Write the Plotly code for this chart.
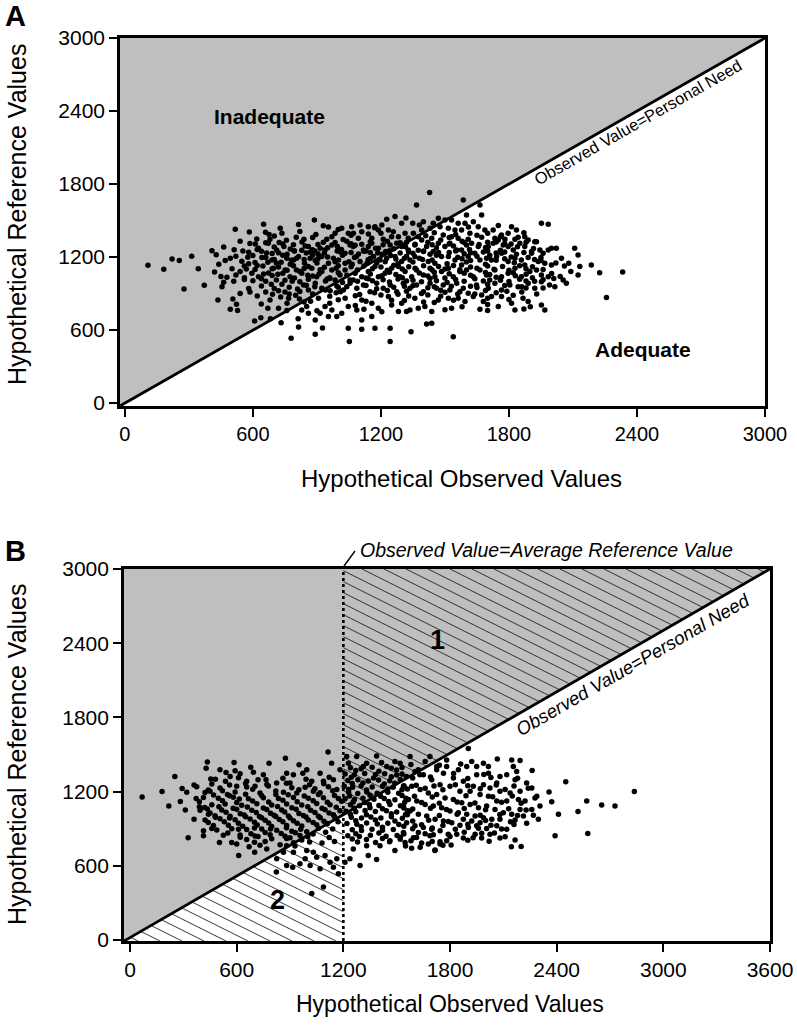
import math
import plotly.graph_objects as go

FONT = "Liberation Sans, Arial, Helvetica, sans-serif"

# ---------------- data ----------------
a_ticks = [0, 600, 1200, 1800, 2400, 3000]
b_xticks = [0, 600, 1200, 1800, 2400, 3000, 3600]
b_yticks = [0, 600, 1200, 1800, 2400, 3000]
a_x_range = [-23, 3000]
a_y_range = [-25, 3000]
b_x_range = [-34, 3600]
b_y_range = [-8, 3000]
average_reference_value = 1200

# Panel A: (observed, reference)
a_points = [
    (1428,1729),(1367,1627),(1586,1669),(1664,1627),
    (1266,1532),(1227,1510),(1317,1521),(1469,1518),(1531,1504),(1601,1545),(1672,1545),(888,1504),
    (650,1469),(814,1466),(1102,1463),(1141,1449),(1204,1463),(1952,1477),(1984,1469),(1812,1449),
    (1594,1477),(1562,1477),(1633,1490),(1500,1504),(1399,1490),(1349,1477),(954,1447),(1016,1436),
    (1063,1449),(1172,1449),(1297,1477),(1445,1477),
    (517,1427),(583,1406),(659,1403),(676,1384),(728,1436),(736,1395),(895,1384),(985,1395),
    (1047,1395),(1071,1395),(1110,1408),(1141,1389),(1188,1422),(1235,1422),(1258,1408),(1313,1395),
    (1352,1395),(1391,1422),(1430,1436),(1477,1449),(1516,1436),(1547,1422),(1578,1422),(1617,1395),
    (1656,1449),(1687,1422),(1726,1422),(1765,1381),(1796,1395),(1835,1422),(1843,1362),(1890,1340),
    (1921,1326),(618,1348),(757,1337),(803,1362),(839,1345),(946,1345),(970,1367),(1023,1343),
    (1094,1354),(1157,1354),(1211,1345),(1282,1367),(1328,1354),(1375,1367),(1438,1354),(1492,1381),
    (1531,1367),(1562,1354),(1609,1345),(1672,1362),(1734,1354),(1781,1345),(1828,1345),(1874,1367),
    (463,1282),(512,1260),(553,1249),(408,1252),(586,1310),(611,1307),(626,1271),(672,1312),
    (711,1258),(723,1318),(745,1285),(793,1252),(829,1255),(860,1285),(879,1260),(915,1271),
    (938,1258),(970,1299),(996,1285),(1032,1230),(1055,1299),(1079,1296),(1118,1258),(1141,1285),
    (1157,1312),(1188,1271),(1222,1244),(1243,1299),(1274,1312),(1297,1285),(1328,1258),(1359,1299),
    (1391,1340),(1414,1285),(1445,1244),(1469,1312),(1500,1285),(1523,1312),(1555,1258),(1578,1258),
    (1601,1299),(1625,1312),(1656,1285),(1703,1285),(1726,1312),(1750,1340),(1773,1299),(1796,1285),
    (1820,1258),(1851,1312),(1874,1285),(1906,1244),(1929,1326),(1945,1258),(1984,1258),(1999,1271),
    (2022,1271),(2108,1271),(428,1219),(313,1206),(221,1184),(255,1170),
    (108,1132),(470,1170),(494,1189),(548,1164),(576,1197),(642,1195),(647,1126),(664,1233),
    (689,1175),(732,1156),(759,1189),(790,1175),(814,1203),(842,1148),(868,1189),(892,1170),
    (923,1203),(954,1148),(977,1189),(1001,1175),(1032,1148),(1076,1195),(1102,1162),(1135,1148),
    (1165,1203),(1196,1175),(1227,1189),(1266,1203),(1297,1162),(1336,1175),(1359,1203),(1399,1244),
    (1422,1162),(1453,1148),(1484,1203),(1516,1203),(1547,1175),(1578,1134),(1609,1203),(1640,1230),
    (1664,1175),(1695,1189),(1718,1175),(1742,1203),(1765,1230),(1796,1162),(1828,1189),(1858,1175),
    (1906,1230),(1937,1162),(1968,1148),(2046,1189),(2124,1217),(2132,1121),(2186,1134),(1999,1134),
    (1874,1134),
    (182,1099),(344,1104),(420,1077),(478,1033),(502,1104),(520,1052),(569,1101),(595,1066),
    (626,1038),(673,1069),(696,1107),(717,1058),(751,1093),(774,1038),(804,1093),(829,1066),
    (857,1049),(876,1107),(899,1038),(923,1080),(948,1019),(970,1093),(985,1011),(1008,1052),
    (1032,1093),(1055,1011),(1079,1066),(1110,1038),(1141,1080),(1172,1121),(1188,1038),(1219,1066),
    (1250,1107),(1282,1121),(1289,1038),(1313,1080),(1344,1038),(1367,1093),(1399,1052),(1430,1107),
    (1453,1038),(1484,1080),(1516,1107),(1539,1038),(1570,1080),(1601,1093),(1633,1038),(1664,1093),
    (1695,1052),(1734,1093),(1765,1038),(1796,1066),(1828,1107),(1858,1038),(1898,1080),(1929,1093),
    (1952,1052),(1984,1038),(2124,1052),(2225,1071),(2054,1011),
    (277,937),(372,967),(455,956),(463,992),(580,940),(586,912),(686,975),(692,893),
    (736,975),(750,912),(784,1000),(809,937),(837,970),(860,929),(892,984),(923,943),
    (962,923),(993,962),(1024,929),(1055,984),(1087,943),(1118,970),(1149,915),(1180,984),
    (1211,943),(1243,970),(1274,915),(1305,984),(1336,943),(1367,970),(1399,915),(1430,984),
    (1461,943),(1492,970),(1523,929),(1555,984),(1586,943),(1609,901),(1648,970),(1672,888),
    (1703,943),(1734,984),(1765,929),(1804,970),(1843,956),(1890,984),(1921,943),(2015,956),
    (2069,984),(1952,997),
    (436,847),(494,770),(528,759),(523,811),(506,855),(639,814),(670,778),(720,778),
    (759,759),(767,860),(818,855),(870,836),(829,764),(852,792),(860,737),(915,737),
    (938,792),(970,764),(993,710),(1016,737),(1047,792),(1087,764),(1110,847),(1157,819),
    (1188,778),(1204,750),(1250,806),(1282,751),(1297,819),(1336,764),(1375,778),(1406,792),
    (1438,751),(1469,847),(1516,860),(1531,778),(1594,833),(1633,874),(1664,770),(1718,874),
    (1750,792),(1765,874),(1812,819),(1828,764),(1866,860),(1890,833),(1952,806),(1968,764),
    (1562,860),(1359,860),(1235,874),(1032,860),(907,860),
    (608,674),(637,701),(682,693),(732,660),(779,532),(812,693),(814,625),(892,564),
    (926,616),(892,682),(954,710),(1047,614),(1052,504),(1110,682),(1157,710),(1110,606),
    (1172,614),(1243,614),(1243,504),(1341,586),(1414,649),(1438,655),(1539,545),
    (2333,1077),(2257,866),
    (690,1228),(760,1222),(850,1232),(905,1226),(1010,1240),(1095,1225),(1150,1236),(1205,1222),
    (1290,1232),(1350,1230),(1430,1222),(1520,1236),(1590,1226),(1680,1240),(1740,1232),(1835,1222),
    (1960,1230),
    (560,1125),(620,1130),(720,1118),(790,1128),(860,1122),(935,1115),(1000,1128),(1060,1120),
    (1120,1125),(1200,1118),(1260,1132),(1330,1120),(1400,1128),(1470,1122),(1540,1130),(1620,1118),
    (1700,1126),(1770,1121),(1850,1128),(1910,1120),(2060,1125),
    (510,1000),(600,1005),(660,1000),(710,1010),(820,996),(940,1002),(1020,990),(1090,1000),
    (1160,1005),(1240,995),(1320,1002),(1390,996),(1460,1005),(1510,990),(1590,1000),(1680,1002),
    (1710,1010),(1800,998),(1880,1003),(1920,1000),(2010,1022),
    (620,880),(730,870),(800,885),(880,895),(960,878),(1080,882),(1200,888),(1330,880),
    (1420,888),(1480,878),(1560,895),(1700,860),(1820,885),(1930,895),
    (540,1330),(680,1345),(790,1300),(930,1320),(1040,1330),(1110,1305),(1230,1330),(1320,1320),
    (1440,1300),(1480,1340),(1580,1330),(1700,1320),(1780,1310),(1880,1320),
    (540,1080),(650,1060),(740,1066),(820,1080),(910,1060),(1000,1070),(1150,1060),(1240,1075),
    (1270,1055),(1380,1068),(1450,1075),(1520,1062),(1590,1066),(1690,1072),(1710,1055),(1820,1070),
    (1880,1058),(2000,1065),(2090,1080),
    (440,1140),(610,1155),(710,1150),(840,1180),(1050,1160),(1220,1160),(1310,1190),(1395,1180),
    (1620,1170),(1780,1185),(1890,1195),(2020,1150),
    (700,940),(890,955),(1000,950),(1180,938),(1310,960),(1450,955),(1620,960),(1700,975),
    (1880,945),(1990,970),
    (760,820),(960,820),(1080,800),(1250,845),(1400,830),(1580,790),(1700,810),(1900,790),
    (820,1410),(1000,1425),(1200,1395),(1450,1400),(1550,1385),(1700,1395),(1870,1400),
]

# Panel A, densest part of the cloud
a_points_core = [
    (620,1262),(700,1281),(775,1266),(845,1290),(890,1248),(950,1276),(1015,1262),(1070,1285),
    (1130,1250),(1175,1272),(1260,1268),(1315,1284),(1375,1255),(1460,1275),(1540,1290),(1615,1262),
    (1690,1278),(1760,1255),(1840,1284),(1915,1270),
    (520,1205),(600,1212),(660,1196),(740,1215),(805,1190),(880,1214),(950,1200),(1020,1215),
    (1085,1204),(1150,1188),(1245,1212),(1320,1205),(1380,1190),(1460,1214),(1560,1198),(1650,1206),
    (1710,1214),(1810,1200),(1950,1196),
    (580,1145),(670,1156),(775,1140),(900,1150),(985,1160),(1065,1140),(1180,1150),(1280,1144),
    (1350,1158),(1510,1145),(1600,1158),(1690,1140),(1825,1152),(1950,1170),(2080,1148),
    (450,1040),(560,1030),(690,1048),(795,1028),(880,1044),(960,1030),(1040,1050),(1130,1026),
    (1205,1046),(1300,1030),(1420,1044),(1500,1026),(1620,1050),(1740,1034),(1830,1046),(1910,1030),
    (2040,1040),
    (640,962),(770,950),(850,968),(1040,955),(1130,966),(1260,950),(1350,964),(1420,946),
    (1530,960),(1650,948),(1780,966),(1860,955),(1960,944),
    (540,900),(660,912),(770,896),(990,906),(1100,892),(1170,906),(1280,894),(1390,900),
    (1500,910),(1640,896),(1740,905),(1860,912),
    (680,846),(840,830),(1000,848),(1130,836),(1310,842),(1450,826),(1540,844),(1680,834),
    (1800,850),
    (700,1372),(880,1360),(1060,1378),(1250,1366),(1410,1374),(1520,1360),(1650,1378),(1760,1366),
    (900,758),(1120,770),(1320,752),(1500,766),(1700,760),(1870,772),
    (930,1456),(1170,1440),(1380,1462),(1610,1446),(1750,1458),
    (660,1316),(740,1306),(830,1322),(905,1302),(985,1318),(1060,1308),(1150,1326),(1210,1300),
    (1290,1316),(1360,1304),(1420,1320),(1520,1306),(1590,1318),(1660,1302),(1740,1322),(1810,1306),
    (580,1238),(640,1246),(720,1234),(795,1250),(870,1240),(935,1232),(995,1250),(1060,1236),
    (1120,1246),(1185,1232),(1240,1252),(1330,1240),(1400,1250),(1470,1236),(1550,1248),(1620,1234),
    (1700,1250),(1780,1240),(1870,1236),
    (610,1096),(690,1104),(760,1090),(840,1106),(915,1094),(990,1108),(1090,1092),(1160,1104),
    (1230,1090),(1300,1100),(1360,1108),(1440,1092),(1500,1102),(1570,1094),(1650,1108),(1730,1098),
    (1800,1090),(1880,1104),(1960,1096),
    (560,1014),(640,1020),(750,1008),(860,1016),(960,1022),(1070,1010),(1140,1020),(1210,1012),
    (1280,1018),(1350,1008),(1430,1022),(1550,1014),(1640,1020),(1760,1008),(1850,1016),(1960,1012),
    (720,922),(820,916),(940,928),(1010,914),(1230,924),(1320,918),(1480,926),(1570,914),
    (1690,924),(1790,918),
    (700,1180),(780,1172),(905,1186),(1140,1178),(1270,1184),(1440,1176),(1580,1186),(1740,1172),
    (1920,1180),
]

# Panel B: (observed, reference)
b_points = [
    (68,1157),(180,1200),(218,1083),(252,1323),(293,1224),(283,1120),(311,1051),(327,827),
    (319,1195),(360,1253),(372,1144),(390,1077),(360,976),(413,883),(413,843),(435,1440),
    (428,1389),(454,1301),(450,1203),(441,1016),(506,1376),(503,789),(506,1229),(540,1355),
    (537,1283),(548,1176),(563,1323),(585,1435),(591,1368),(619,1344),(600,1243),(611,683),
    (572,789),(600,776),(615,1141),(656,1283),(670,755),(679,1397),(694,1357),(703,1243),
    (701,709),(750,1336),(765,1296),(782,1429),(769,736),(825,1269),(820,1176),(823,549),
    (874,1469),(881,1349),(900,1269),(919,1336),(951,1416),(938,1189),(972,1349),(994,1376),
    (1022,1283),(1031,1203),(1069,1349),(1088,1283),(1114,1520),(1134,1429),(1144,1296),(1181,1376),
    (1163,1216),
    (413,1152),(460,1094),(497,1146),(535,1100),(581,1155),(628,1090),(666,1143),(713,1102),
    (750,1150),(797,1092),(835,1145),(881,1099),(919,1153),(966,1091),(1003,1147),(1050,1103),
    (1088,1150),(1125,1094),(1172,1145),
    (394,1050),(435,1060),(478,1005),(516,1052),(563,1000),(600,1058),(642,1010),(685,1049),
    (728,998),(769,1055),(810,1008),(853,1052),(891,1002),(934,1057),(975,1006),(1016,1050),
    (1060,1000),(1097,1054),(1144,1012),(1181,1046),
    (422,970),(469,925),(506,980),(553,928),(591,972),(634,920),(675,978),(716,930),
    (760,968),(797,918),(840,975),(881,926),(919,965),(966,921),(1003,971),(1050,932),
    (1091,960),
    (488,890),(525,846),(572,900),(619,850),(656,893),(703,840),(741,897),(788,852),
    (825,888),(872,838),(910,880),(956,845),(994,875),
    (656,812),(731,766),(797,818),(844,770),(881,820),(928,760),(966,808),
    (375,1240),(422,1192),(591,1196),(656,1238),(731,1188),(778,1246),(863,1195),(910,1232),
    (985,1236),(1069,1190),(1116,1240),
    (825,656),(863,709),(881,603),(915,589),(956,616),(985,656),(1013,603),(1050,669),
    (1069,576),(1097,683),(1125,629),(1163,656),(1172,536),(1144,589),(1031,709),(994,723),
    (919,709),(881,763),(1088,429),(1022,376),
    (1219,1483),(1228,1429),(1275,1483),(1312,1403),(1331,1429),(1387,1488),(1415,1435),(1444,1403),
    (1490,1443),(1519,1429),(1575,1483),(1622,1376),(1687,1483),(1725,1403),(1781,1456),(1294,603),
    (1387,651),(1490,723),(1584,741),(1640,784),(1715,723),(1744,776),(1790,856),(1687,843),
    (1612,829),(1547,789),(1462,803),(1406,763),(1340,683),(1331,763),(1256,736),(1237,656),
    (1209,629),
    (1660,1443),(1903,1549),(1922,1443),(1988,1429),(2016,1403),(2066,1464),(2147,1456),(2194,1451),
    (2156,1403),(2175,1363),(2262,1371),(2451,1280),(2357,1197),(2372,1117),(2569,1123),(2653,1091),
    (2728,1083),(2837,1200),(2520,1040),(2410,1016),(2391,843),(2575,861),(2297,976),(2269,1008),
    (2228,1051),(2194,1056),(2231,944),(2166,971),(2145,755),(2166,808),(2081,824),(1978,824),
    (1978,864),(1875,824),(1806,768),(1716,728),(1744,795),(1706,851),(1660,859),(1594,827),
    (1622,869),
    (1950,1336),(2016,1349),(2081,1323),(2119,1336),(2166,1296),(2231,1269),(2260,1229),(2278,1149),
    (2063,1269),(1988,1256),(1931,1243),(1875,1283),(1819,1309),(1763,1349),(1725,1376),(1781,1403),
    (1847,1376),(1894,1403),(1950,1403),(2025,1229),(2081,1203),(2138,1189),(2185,1136),(2222,1123),
    (2119,1123),(2063,1123),(2016,1163),(1969,1176),(1913,1203),(1856,1203),(1800,1243),(1744,1256),
    (1697,1296),(1650,1336),(1603,1363),(1556,1323),(1538,1243),(1585,1243),(1632,1216),(1678,1189),
    (1725,1176),(1772,1149),(1819,1136),(1866,1109),(1913,1096),(1960,1069),(2006,1083),(2053,1056),
    (2100,1029),(2147,1016),(2081,976),(2035,976),(1988,989),(1941,1003),(1894,1016),(1847,1029),
    (1800,1043),(1753,1069),(1706,1083),(1660,1096),(1613,1123),(1566,1136),(1538,1083),(1575,1043),
    (1622,1016),(1669,1003),(1716,976),(1763,963),(1810,949),(1856,928),(1903,909),(1950,923),
    (2006,901),(2063,923),(2119,896),(1556,949),(1603,923),(1650,909),(1697,896),(1744,883),
    (1538,869),(1875,976),(1922,963),(1969,949),(2025,856),(1941,856),(1838,856),(1781,803),
    (1678,776),(1632,749),(2194,1203),(2213,1003),(2260,1056),(2288,1163),(2306,1083),
    (1240,1392),(1300,1385),(1362,1396),(1470,1388),(1530,1394),
    (1210,1343),(1262,1336),(1320,1347),(1381,1338),(1432,1345),(1500,1334),
    (1225,1290),(1282,1296),(1340,1285),(1398,1293),(1461,1288),(1520,1297),
    (1205,1243),(1252,1236),(1300,1246),(1362,1238),(1420,1244),(1480,1235),(1541,1247),
    (1230,1192),(1281,1185),(1332,1196),(1390,1187),(1450,1194),(1511,1186),
    (1210,1142),(1262,1136),(1310,1147),(1372,1138),(1430,1145),(1490,1134),(1552,1146),
    (1240,1093),(1291,1086),(1346,1095),(1400,1087),(1462,1096),(1521,1085),
    (1215,1042),(1270,1036),(1322,1047),(1380,1038),(1442,1045),(1500,1034),(1561,1046),
    (1245,993),(1302,986),(1355,995),(1411,987),(1470,996),(1532,985),
    (1220,942),(1276,936),(1331,947),(1391,938),(1450,945),(1512,934),
    (1250,892),(1302,885),(1361,896),(1420,887),(1481,893),
    (1225,842),(1290,836),(1352,846),(1440,838),(1502,845),
    (1280,792),(1381,788),(1460,795),
]

# Panel B, densest part of the cloud
b_points_core = [
    (480,1300),(610,1312),(720,1296),(860,1308),(990,1300),(1120,1315),
    (440,1212),(520,1206),(690,1218),(820,1204),(950,1214),(1040,1222),(1140,1206),
    (390,1118),(520,1126),(600,1112),(690,1124),(780,1116),(860,1130),(940,1118),(1030,1126),
    (1110,1114),(1190,1122),
    (450,1026),(540,1032),(620,1020),(710,1030),(790,1024),(870,1034),(950,1022),(1040,1030),
    (1120,1026),
    (440,950),(530,956),(610,944),(700,952),(780,946),(860,956),(940,944),(1030,950),
    (1110,942),(1170,956),
    (550,866),(680,860),(760,870),(850,862),(930,868),(1030,858),(1100,872),
    (700,790),(760,796),(920,786),(1010,792),(1080,784),(1150,796),
    (1580,1420),(1740,1412),(1860,1424),
    (1590,1310),(1690,1318),(1900,1306),(2030,1314),(2180,1308),
    (1560,1220),(1660,1226),(1760,1214),(1970,1222),(2110,1216),(2240,1226),
    (1600,1162),(1700,1156),(1890,1166),(2040,1158),(2150,1164),
    (1590,1060),(1690,1066),(1780,1056),(1880,1064),(2000,1054),(2130,1062),
    (1590,962),(1680,968),(1790,958),(2000,966),(2140,956),
    (1590,900),(1700,906),(1830,896),(1960,904),(2090,898),
    (1520,830),(1800,836),(1930,826),(2110,834),
    (1550,760),(1760,766),(2200,756),
    (1270,1370),(1400,1364),(1500,1374),
    (1250,1265),(1310,1270),(1430,1262),(1490,1268),
    (1235,1165),(1350,1170),(1410,1162),(1530,1168),
    (1260,1065),(1350,1070),(1420,1062),(1540,1068),
    (1270,965),(1380,970),(1490,962),
    (1270,860),(1400,866),(1540,858),
    (460,1262),(560,1254),(650,1266),(770,1258),(880,1268),(1010,1256),(1090,1264),
    (470,1172),(560,1166),(650,1178),(740,1168),(890,1174),(980,1164),(1060,1176),(1150,1168),
    (420,1072),(500,1078),(580,1066),(660,1076),(750,1068),(830,1080),(910,1070),(1000,1078),
    (1080,1066),(1160,1074),
    (480,992),(560,986),(650,996),(740,988),(820,998),(900,986),(990,994),(1070,988),(1150,996),
    (460,902),(610,896),(700,906),(790,898),(880,908),(960,896),(1060,904),(1140,898),
    (620,830),(720,836),(900,826),(1000,834),(1120,828),
    (1530,1342),(1630,1336),(1820,1346),(1990,1338),
    (1610,1252),(1710,1246),(1830,1256),(1900,1248),(2060,1254),(2160,1246),
    (1640,1112),(1740,1106),(1840,1116),(1940,1108),(2090,1114),(2200,1106),
    (1560,1012),(1740,1006),(1840,1016),(1970,1008),(2080,1014),(2180,1006),
    (1640,932),(1760,926),(1900,936),(2030,928),(2160,934),
    (1880,872),(2050,866),
    (1580,802),(1700,796),(1900,806),(2020,798),
    (1245,1316),(1370,1310),(1470,1320),
    (1230,1216),(1330,1212),(1450,1220),(1530,1214),
    (1255,1116),(1320,1112),(1455,1120),(1545,1114),
    (1240,1016),(1330,1012),(1470,1020),(1550,1014),
    (1300,916),(1420,912),(1540,920),
    (1250,816),(1330,812),(1420,820),(1520,814),
]

a_obs = [p[0] for p in a_points + a_points_core]
a_ref = [p[1] for p in a_points + a_points_core]
b_obs = [p[0] for p in b_points + b_points_core]
b_ref = [p[1] for p in b_points + b_points_core]

# ---------------- layout geometry ----------------
FIG_W, FIG_H = 797, 1026
ML, MR, MT, MB = 120, 27, 38, 85
PLOT_W = FIG_W - ML - MR
PLOT_H = FIG_H - MT - MB
a_xdom = [0.0, 0.9923]
a_ydom = [0.5925, 1.0]
b_xdom = [0.00615, 1.0]
b_ydom = [0.0, 0.412]


def px_to_paper(px, py):
    return (px - ML) / PLOT_W, (FIG_H - MB - py) / PLOT_H


def diag_b(x):
    x0, y0 = b_x_range[0], b_y_range[0]
    return y0 + (x - x0) * (3000 - y0) / (3600 - x0)


y_cut = diag_b(average_reference_value)


def hatch(poly, xr, yr, wpx, hpx, step=11.0, slope=-0.5):
    def to_px(x, y):
        return ((x - xr[0]) / (xr[1] - xr[0]) * wpx, (y - yr[0]) / (yr[1] - yr[0]) * hpx)

    def to_data(u, v):
        return (xr[0] + u / wpx * (xr[1] - xr[0]), yr[0] + v / hpx * (yr[1] - yr[0]))

    P = [to_px(*p) for p in poly]
    n = len(P)
    area = sum(P[i][0] * P[(i + 1) % n][1] - P[(i + 1) % n][0] * P[i][1] for i in range(n))
    if area < 0:
        P = P[::-1]
    d = (1.0, slope)
    xs, ys = [], []
    c = -abs(slope) * wpx - step
    while c < hpx + abs(slope) * wpx + step:
        tmin, tmax, ok = -1e9, 1e9, True
        for i in range(n):
            a, b = P[i], P[(i + 1) % n]
            nx, ny = -(b[1] - a[1]), (b[0] - a[0])
            num = nx * (0 - a[0]) + ny * (c - a[1])
            den = nx * d[0] + ny * d[1]
            if abs(den) < 1e-12:
                if num < 0:
                    ok = False
                    break
            else:
                t = -num / den
                if den > 0:
                    tmin = max(tmin, t)
                else:
                    tmax = min(tmax, t)
        if ok and tmax > tmin:
            for t in (tmin, tmax):
                x, y = to_data(t * d[0], c + t * d[1])
                xs.append(x)
                ys.append(y)
            xs.append(None)
            ys.append(None)
        c += step
    return xs, ys


b_wpx = PLOT_W * (b_xdom[1] - b_xdom[0])
b_hpx = PLOT_H * (b_ydom[1] - b_ydom[0])
region1 = [(average_reference_value, y_cut), (3600, 3000), (average_reference_value, 3000)]
region2 = [(b_x_range[0], b_y_range[0]), (average_reference_value, b_y_range[0]),
           (average_reference_value, y_cut)]

fig = go.Figure()

for reg in (region1, region2):
    hx, hy = hatch(reg, b_x_range, b_y_range, b_wpx, b_hpx)
    fig.add_trace(go.Scatter(x=hx, y=hy, xaxis="x2", yaxis="y2", mode="lines",
                             line=dict(color="#222222", width=0.9), hoverinfo="skip",
                             showlegend=False))

fig.add_trace(go.Scatter(x=[average_reference_value, average_reference_value],
                         y=[b_y_range[0], 3000], xaxis="x2", yaxis="y2", mode="lines",
                         line=dict(color="black", width=2.6, dash="dot"), hoverinfo="skip",
                         showlegend=False))

fig.add_trace(go.Scatter(x=a_obs, y=a_ref, mode="markers", xaxis="x", yaxis="y",
                         marker=dict(color="black", size=5.5, line=dict(width=0)),
                         hoverinfo="skip", showlegend=False))
fig.add_trace(go.Scatter(x=b_obs, y=b_ref, mode="markers", xaxis="x2", yaxis="y2",
                         marker=dict(color="black", size=5.5, line=dict(width=0)),
                         hoverinfo="skip", showlegend=False))

fig.add_trace(go.Scatter(x=[a_x_range[0], 3000], y=[a_y_range[0], 3000], mode="lines",
                         xaxis="x", yaxis="y", line=dict(color="black", width=2.8),
                         hoverinfo="skip", showlegend=False))
fig.add_trace(go.Scatter(x=[b_x_range[0], 3600], y=[b_y_range[0], 3000], mode="lines",
                         xaxis="x2", yaxis="y2", line=dict(color="black", width=2.8),
                         hoverinfo="skip", showlegend=False))

GRAY = "#bfbfbf"
lead0 = px_to_paper(344, 566)
lead1 = px_to_paper(355, 551)
shapes = [
    dict(type="path", xref="x", yref="y", layer="below", fillcolor=GRAY, line=dict(width=0),
         path=f"M {a_x_range[0]},{a_y_range[0]} L 3000,3000 L {a_x_range[0]},3000 Z"),
    dict(type="path", xref="x2", yref="y2", layer="below", fillcolor=GRAY, line=dict(width=0),
         path=f"M {b_x_range[0]},{b_y_range[0]} L 3600,3000 L {b_x_range[0]},3000 Z"),
    dict(type="line", xref="paper", yref="paper", x0=lead0[0], y0=lead0[1],
         x1=lead1[0], y1=lead1[1], line=dict(color="black", width=1.4)),
]

axis_common = dict(showline=True, linecolor="black", linewidth=2.6, mirror=True,
                   ticks="outside", ticklen=8, tickwidth=2, tickcolor="black",
                   showgrid=False, zeroline=False, fixedrange=True)

annotations = []


def paper_ann(text, px, py, size, angle=0, bold=False, xanchor="center"):
    x, y = px_to_paper(px, py)
    annotations.append(dict(text=f"<b>{text}</b>" if bold else text, x=x, y=y, xref="paper",
                            yref="paper", showarrow=False, textangle=angle, xanchor=xanchor,
                            yanchor="middle", font=dict(family=FONT, size=size, color="black")))


paper_ann("A", 3, 16, 29, bold=True, xanchor="left")
paper_ann("B", 3, 551, 29, bold=True, xanchor="left")
paper_ann("Hypothetical Reference Values", 17, 215, 25, angle=-90)
paper_ann("Hypothetical Observed Values", 461, 478, 24)
paper_ann("Hypothetical Reference Values", 17, 755, 25, angle=-90)
paper_ann("Hypothetical Observed Values", 450, 1004, 23)
paper_ann("<i>Observed Value=Average Reference Value</i>", 358, 550, 19.5, xanchor="left")

annotations += [
    dict(text="<b>Inadequate</b>", x=680, y=2351, xref="x", yref="y", showarrow=False,
         font=dict(family=FONT, size=21, color="black")),
    dict(text="<b>Adequate</b>", x=2428, y=443, xref="x", yref="y", showarrow=False,
         font=dict(family=FONT, size=21, color="black")),
    dict(text="Observed Value=Personal Need", x=2405, y=2309, xref="x", yref="y",
         showarrow=False, textangle=-29.7, font=dict(family=FONT, size=16.5, color="black")),
    dict(text="<b>1</b>", x=1732, y=2426, xref="x2", yref="y2", showarrow=False,
         font=dict(family=FONT, size=27, color="black")),
    dict(text="<b>2</b>", x=827, y=323, xref="x2", yref="y2", showarrow=False,
         font=dict(family=FONT, size=27, color="black")),
    dict(text="<i>Observed Value=Personal Need</i>", x=2829, y=2224, xref="x2", yref="y2",
         showarrow=False, textangle=-29.9, font=dict(family=FONT, size=18.5, color="black")),
]

fig.update_layout(
    width=FIG_W, height=FIG_H,
    margin=dict(l=ML, r=MR, t=MT, b=MB, autoexpand=False),
    paper_bgcolor="white", plot_bgcolor="white",
    font=dict(family=FONT, color="black"),
    showlegend=False,
    xaxis=dict(domain=a_xdom, range=a_x_range, tickvals=a_ticks, anchor="y",
               tickfont=dict(family=FONT, size=20), **axis_common),
    yaxis=dict(domain=a_ydom, range=a_y_range, tickvals=a_ticks, anchor="x",
               tickfont=dict(family=FONT, size=21), **axis_common),
    xaxis2=dict(domain=b_xdom, range=b_x_range, tickvals=b_xticks, anchor="y2",
                tickfont=dict(family=FONT, size=21), **axis_common),
    yaxis2=dict(domain=b_ydom, range=b_y_range, tickvals=b_yticks, anchor="x2",
                tickfont=dict(family=FONT, size=21), **axis_common),
    shapes=shapes,
    annotations=annotations,
)

fig.write_html("out.html", config={"displayModeBar": False},
               post_script="document.body.style.margin='0';document.body.style.padding='0';")
